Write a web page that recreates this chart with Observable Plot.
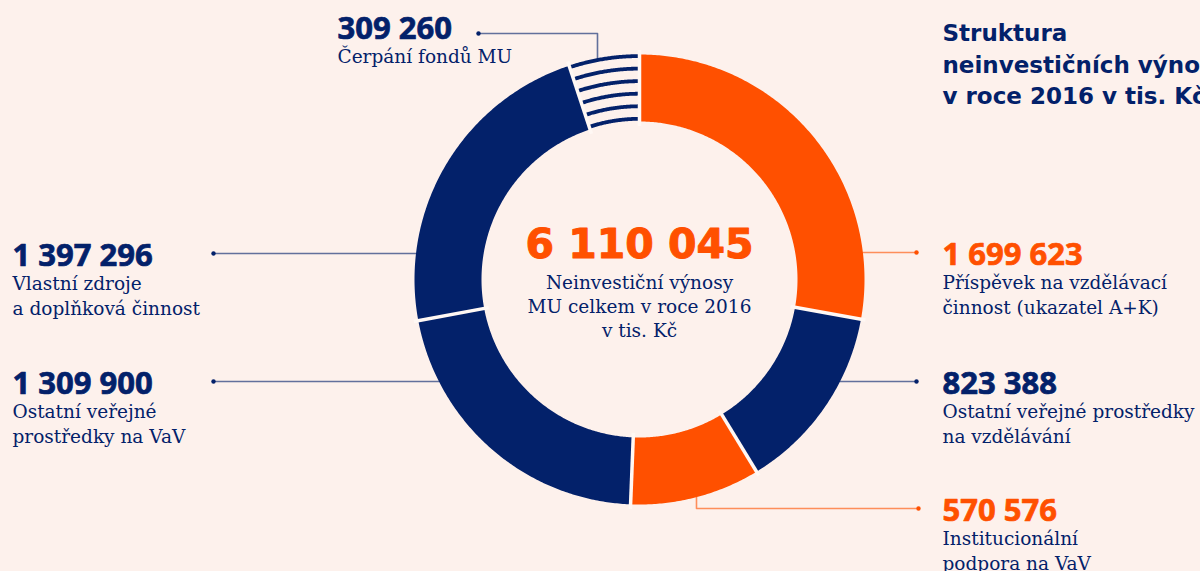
<!DOCTYPE html>
<html><head><meta charset="utf-8">
<script src="https://cdn.jsdelivr.net/npm/d3@7"></script>
<script src="https://cdn.jsdelivr.net/npm/@observablehq/plot@0.6"></script>
<style>
html,body{margin:0;padding:0;background:#fdf1ec;overflow:hidden;width:1200px;height:571px}
#chart svg{display:block}
</style></head><body><div id="chart"></div>
<script>
// ---- data ----
const categories = [
  "Příspěvek na vzdělávací činnost (ukazatel A+K)",
  "Ostatní veřejné prostředky na vzdělávání",
  "Institucionální podpora na VaV",
  "Ostatní veřejné prostředky na VaV",
  "Vlastní zdroje a doplňková činnost",
  "Čerpání fondů MU"
];
const values = [1699623, 823388, 570576, 1309900, 1397296, 309260];
const labelLines = [
  ["Příspěvek na vzdělávací", "činnost (ukazatel A+K)"],
  ["Ostatní veřejné prostředky", "na vzdělávání"],
  ["Institucionální", "podpora na VaV"],
  ["Ostatní veřejné", "prostředky na VaV"],
  ["Vlastní zdroje", "a doplňková činnost"],
  ["Čerpání fondů MU"]
];
const fillKinds = ["orange", "navy", "orange", "navy", "navy", "hatch"];
const totalLabel = "6 110 045";
const centerLines = ["Neinvestiční výnosy", "MU celkem v roce 2016", "v tis. Kč"];
const titleLines = ["Struktura", "neinvestičních výnosů", "v roce 2016 v tis. Kč"];

// ---- style / layout ----
const W = 1200, H = 571;
const BG = "#fdf1ec", ORANGE = "#ff5000", NAVY = "#03216a";
const CX = 639, CY = 279, RPX = 225;           // ring centre and outer radius in px
const R = 1, RIN = 158 / 225;                   // radii in ring units
const px = v => (v - CX) / RPX, py = v => (v - CY) / RPX;
const colorOf = k => k === "orange" ? ORANGE : NAVY;
const fmt = d3.formatLocale({decimal: ",", thousands: " ", grouping: [3]}).format(",d");

// label layout: text x, number baseline, leader
const layout = [
  {tx: 942, base: 264, leader: {type: "row", row: 252, dot: 916, side: 1}},
  {tx: 942, base: 393, leader: {type: "row", row: 381, dot: 916, side: 1}},
  {tx: 942, base: 520, leader: {type: "elbow", row: 508, dot: 918, elbow: 696, bottom: true}},
  {tx: 12,  base: 393, leader: {type: "row", row: 381, dot: 213, side: -1}},
  {tx: 12,  base: 265, leader: {type: "row", row: 253, dot: 213, side: -1}},
  {tx: 337, base: 38,  leader: {type: "elbow", row: 33, dot: 478, elbow: 597, bottom: false}}
];

const rows = categories.map((c, i) => ({key: c, value: values[i], kind: fillKinds[i]}));
const arcs = d3.pie().sort(null).value(d => d.value).startAngle(0).endAngle(2 * Math.PI)(rows);
const pt = (r, a) => ({x: r * Math.sin(a), y: -r * Math.cos(a)});

// slice polygons
const slicePts = [];
arcs.forEach(a => {
  const n = Math.max(2, Math.ceil((a.endAngle - a.startAngle) / (Math.PI / 360)));
  if (a.data.kind === "hatch") return;
  for (let i = 0; i <= n; i++) slicePts.push({key: a.data.key, kind: a.data.kind, ...pt(R, a.startAngle + (a.endAngle - a.startAngle) * i / n)});
  for (let i = n; i >= 0; i--) slicePts.push({key: a.data.key, kind: a.data.kind, ...pt(RIN, a.startAngle + (a.endAngle - a.startAngle) * i / n)});
});

// hatch arcs
const hatchPts = [];
const HATCH_N = 6;
arcs.filter(a => a.data.kind === "hatch").forEach(a => {
  const n = 60;
  for (let h = 0; h < HATCH_N; h++) {
    const r = (R - 0.007) - h * ((R - 0.007) - (RIN + 0.012)) / (HATCH_N - 1);
    for (let i = 0; i <= n; i++) hatchPts.push({h, ...pt(r, a.startAngle + (a.endAngle - a.startAngle) * i / n)});
  }
});

// separators at every boundary
const seps = arcs.map(a => {
  const p0 = pt(RIN - 0.02, a.startAngle), p1 = pt(R + 0.02, a.startAngle);
  return {x1: p0.x, y1: p0.y, x2: p1.x, y2: p1.y};
});

// leaders
const leaderPts = [], dots = [];
arcs.forEach((a, i) => {
  const L = layout[i].leader, col = colorOf(a.data.kind);
  const ry = py(L.row);
  if (L.type === "row") {
    const rx = L.side * Math.sqrt(R * R - ry * ry);
    leaderPts.push({k: i, col, x: px(L.dot), y: ry}, {k: i, col, x: rx, y: ry});
  } else {
    const ex = px(L.elbow);
    const ey = (L.bottom ? 1 : -1) * Math.sqrt(R * R - ex * ex);
    leaderPts.push({k: i, col, x: px(L.dot), y: ry}, {k: i, col, x: ex, y: ry}, {k: i, col, x: ex, y: ey});
  }
  dots.push({x: px(L.dot), y: ry, col});
});

// texts
const numTexts = arcs.map((a, i) => ({x: px(layout[i].tx), y: py(layout[i].base), text: fmt(a.data.value), col: colorOf(a.data.kind)}));
const lblTexts = [];
arcs.forEach((a, i) => labelLines[i].forEach((t, j) => lblTexts.push({x: px(layout[i].tx), y: py(layout[i].base + 24.5 * (j + 1)), text: t})));
const centerTexts = centerLines.map((t, j) => ({x: 0, y: py(288 + 24 * j), text: t}));
const titleTexts = titleLines.map((t, j) => ({x: px(942), y: py(40.5 + 31.7 * j), text: t}));

const FS_NUM = 31, FS_LBL = 18.5, FS_TOT = 41, FS_TTL = 23;

const chart = Plot.plot({
  width: W, height: H, margin: 0,
  x: {domain: [px(0), px(W)], range: [0, W], axis: null},
  y: {domain: [py(0), py(H)], range: [0, H], axis: null},
  style: {background: BG, overflow: "hidden"},
  marks: [
    Plot.line(leaderPts, {x: "x", y: "y", z: "k", stroke: "col", strokeWidth: 1.6, strokeOpacity: 0.62}),
    Plot.line(slicePts.filter(d => d.kind === "orange"), {x: "x", y: "y", z: "key", fill: ORANGE, stroke: "none"}),
    Plot.line(slicePts.filter(d => d.kind === "navy"), {x: "x", y: "y", z: "key", fill: NAVY, stroke: "none"}),
    Plot.line(hatchPts, {x: "x", y: "y", z: "h", stroke: NAVY, strokeWidth: 3.8, strokeLinecap: "butt"}),
    Plot.link(seps, {x1: "x1", y1: "y1", x2: "x2", y2: "y2", stroke: "#fff8f4", strokeWidth: 3.5}),
    Plot.dot(dots, {x: "x", y: "y", r: 2.2, fill: "col", stroke: "none"}),
    Plot.text(numTexts, {x: "x", y: "y", text: "text", fill: "col", stroke: "col", strokeWidth: 0.7, textAnchor: "start", lineAnchor: "top", dy: -0.71 * FS_NUM, fontFamily: "Open Sans", fontWeight: 700, fontSize: FS_NUM}),
    Plot.text(lblTexts, {x: "x", y: "y", text: "text", fill: NAVY, textAnchor: "start", lineAnchor: "top", dy: -0.71 * FS_LBL, fontFamily: "DejaVu Serif", fontSize: FS_LBL}),
    Plot.text([{x: 0, y: py(257), text: totalLabel}], {x: "x", y: "y", text: "text", fill: ORANGE, stroke: ORANGE, strokeWidth: 1, textAnchor: "middle", lineAnchor: "top", dy: -0.71 * FS_TOT, fontFamily: "DejaVu Sans", fontWeight: 700, fontSize: FS_TOT}),
    Plot.text(centerTexts, {x: "x", y: "y", text: "text", fill: NAVY, textAnchor: "middle", lineAnchor: "top", dy: -0.71 * FS_LBL, fontFamily: "DejaVu Serif", fontSize: FS_LBL}),
    Plot.text(titleTexts, {x: "x", y: "y", text: "text", fill: NAVY, textAnchor: "start", lineAnchor: "top", dy: -0.71 * FS_TTL, fontFamily: "DejaVu Sans", fontWeight: 700, fontSize: FS_TTL})
  ]
});
document.getElementById("chart").append(chart);
</script></body></html>
